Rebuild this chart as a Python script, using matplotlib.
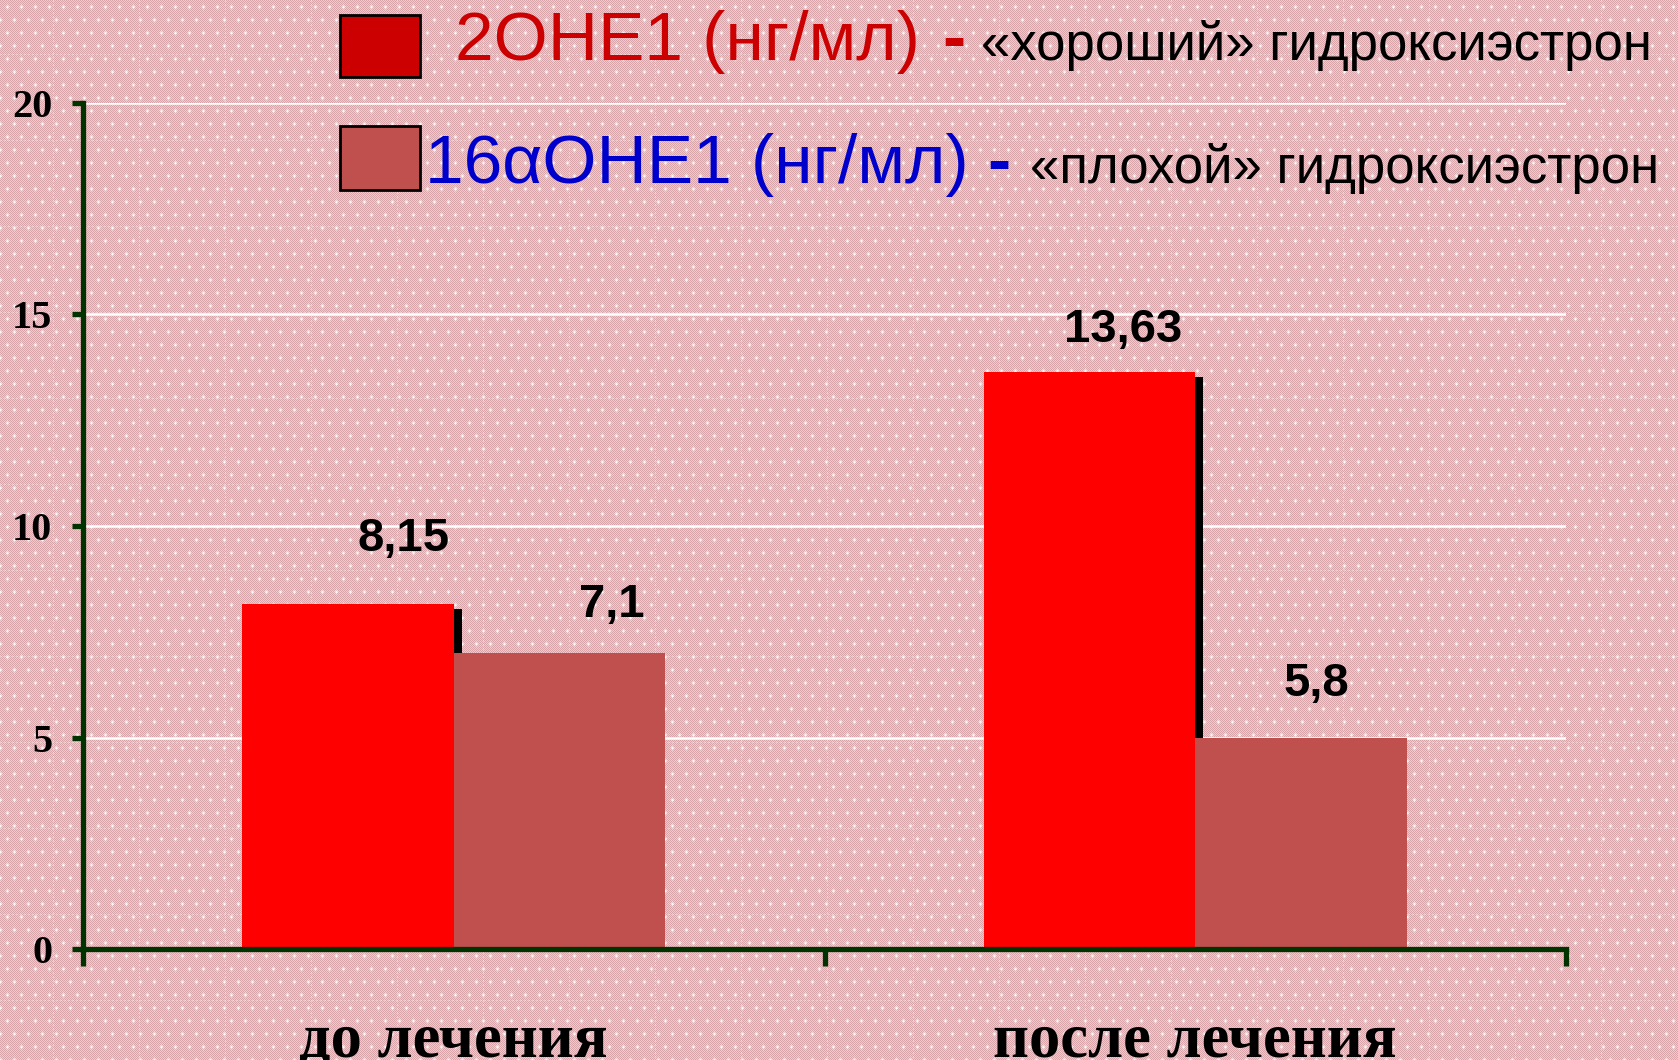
import matplotlib
matplotlib.use("Agg")
import matplotlib.pyplot as plt
import numpy as np
from matplotlib.patches import Rectangle

# data
categories = ["до лечения", "после лечения"]
good_values = [8.15, 13.63]     # 2OHE1, bar heights as drawn
bad_values = [7.0, 5.0]         # 16αOHE1, bar heights as drawn
good_labels = ["8,15", "13,63"]
bad_labels = ["7,1", "5,8"]
y_ticks = [0, 5, 10, 15, 20]
legend_main = ["2OHE1 (нг/мл)", "16αOHE1 (нг/мл)"]
legend_note = ["«хороший» гидроксиэстрон", "«плохой» гидроксиэстрон"]

W, H = 1678, 1060
RED = "#ff0000"
PINK = "#c0504d"
AXIS = "#003300"


def make_texture(w: int, h: int) -> np.ndarray:
    yy, xx = np.mgrid[0:h, 0:w].astype(float)
    c1 = np.array([214, 164, 169], float) / 255
    c2 = np.array([236, 204, 207], float) / 255
    checker = ((xx.astype(int) + yy.astype(int)) % 2 == 0)[..., None]
    base = np.where(checker, c1, c2)
    # white sparkles on an offset lattice
    sx, sy = 14.0, 13.0
    row = np.floor(yy / sy)
    y_in = yy - row * sy - sy / 2
    x_in = (xx + (row % 2) * sx / 2) % sx - sx / 2
    r2 = x_in ** 2 + y_in ** 2
    star = np.maximum(np.exp(-r2 / 2.2),
                      0.6 * np.maximum(np.exp(-x_in ** 2 / 7 - y_in ** 2 / 0.3),
                                       np.exp(-y_in ** 2 / 7 - x_in ** 2 / 0.3)))
    # faint dashed guide lines
    gx = ((xx - 53) % 86 < 1) & (yy % 4 < 2)
    gy = ((yy - 54) % 86 < 1) & (xx % 4 < 2)
    star = np.maximum(star, 0.35 * (gx | gy))
    img = base * (1 - star[..., None]) + star[..., None]
    return np.clip(img, 0, 1)


fig = plt.figure(figsize=(W / 100, H / 100), dpi=100)
fig.figimage(make_texture(W, H), 0, 0, zorder=-10)

ax = fig.add_axes([83 / W, 111 / H, (1566 - 83) / W, (949 - 103) / H])
ax.set_zorder(1)
ax.set_facecolor("none")

x = np.arange(len(categories))
bw = 0.285
# dark side edge behind the red bars
ax.bar(x - bw / 2 + 0.011, np.array(good_values) - 0.11, bw, color="black", zorder=1.8)
ax.bar(x - bw / 2, good_values, bw, color=RED, zorder=2)
ax.bar(x + bw / 2, bad_values, bw, color=PINK, zorder=2)

# value labels sit up and to the right of the bar tops
good_off = [(40, 38), (24, 22)]
bad_off = [(38, 26), (11, 30)]
for i in range(len(categories)):
    ax.annotate(good_labels[i], (x[i] - bw / 2, good_values[i]), xytext=good_off[i],
                textcoords="offset points", ha="center", va="baseline",
                fontsize=34, fontweight="bold", family="Liberation Sans", zorder=5)
    ax.annotate(bad_labels[i], (x[i] + bw / 2, bad_values[i]), xytext=bad_off[i],
                textcoords="offset points", ha="center", va="baseline",
                fontsize=34, fontweight="bold", family="Liberation Sans", zorder=5)

ax.set_xlim(-0.5, 1.5)
ax.set_ylim(0, 20)
ax.set_yticks(y_ticks)
ax.set_xticks(x)
ax.set_xticklabels(categories)
ax.set_xticks([-0.5, 0.5, 1.5], minor=True)
ax.tick_params(axis="x", which="major", length=0, pad=46)
ax.tick_params(axis="x", which="minor", length=12, width=3.8, color=AXIS)
ax.tick_params(axis="y", length=8, width=3.8, color=AXIS, pad=14)
for lab in ax.get_xticklabels():
    lab.set_fontfamily("Liberation Serif")
    lab.set_fontweight("bold")
    lab.set_fontsize(45)
for lab in ax.get_yticklabels():
    lab.set_fontfamily("Liberation Serif")
    lab.set_fontweight("bold")
    lab.set_fontsize(29)

for side in ("top", "right"):
    ax.spines[side].set_visible(False)
for side in ("left", "bottom"):
    ax.spines[side].set_color(AXIS)
    ax.spines[side].set_linewidth(3.8)
    ax.spines[side].set_zorder(3)
ax.yaxis.grid(True, color="white", linewidth=1.8)
ax.set_axisbelow(True)

# legend drawn by hand: box, coloured name, dash, black note
boxes = [(340, 15, 77, "#cc0000"), (340, 126, 190, PINK)]
for left, top, bottom, col in boxes:
    fig.add_artist(Rectangle((left / W, 1 - bottom / H), 80 / W, (bottom - top) / H,
                             transform=fig.transFigure, facecolor=col,
                             edgecolor="black", linewidth=2))

rows = [
    (60, 455, 942, 981, "#cc0000"),
    (183, 425, 987, 1030, "#0000cc"),
]
for (base, x_main, x_dash, x_note, col), main, note in zip(rows, legend_main, legend_note):
    fig.text(x_main / W, 1 - base / H, main, color=col, fontsize=50,
             family="Liberation Sans", va="baseline")
    fig.text(x_dash / W, 1 - base / H, "-", color=col, fontsize=50, fontweight="bold",
             family="Liberation Sans", va="baseline")
    fig.text(x_note / W, 1 - base / H, note, color="black", fontsize=38,
             family="Liberation Sans", va="baseline")

fig.savefig("out.png", dpi=100)
